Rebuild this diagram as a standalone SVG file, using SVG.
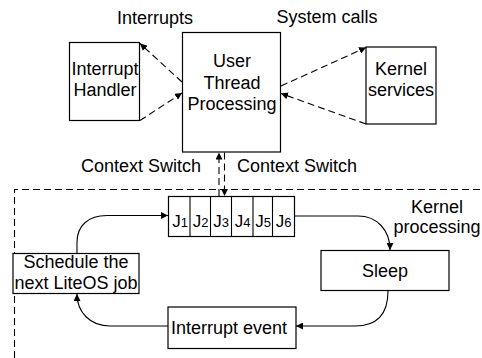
<svg xmlns="http://www.w3.org/2000/svg" width="482" height="358" viewBox="0 0 482 358">
<style>
text{font-family:"Liberation Sans",Arial,sans-serif;font-size:18px;fill:#000;text-anchor:middle}
.j{font-size:17px}
.box{fill:#fff;stroke:#000;stroke-width:1.2}
.ln{fill:none;stroke:#000;stroke-width:1.1}
.dash{fill:none;stroke:#000;stroke-width:1.1;stroke-dasharray:7,4}
.sub{font-size:13px}
</style>
<defs>
<marker id="ah" viewBox="0 0 10 10" refX="10" refY="5" markerWidth="7" markerHeight="7" orient="auto" markerUnits="userSpaceOnUse">
<path d="M0,0 L10,5 L0,10 z" fill="#000"/>
</marker>
</defs>
<rect width="482" height="358" fill="#fff"/>
<g id="boundary">
<path class="dash" d="M14.5,358 V189.5 H482"/>
</g>
<g id="labels">
<text x="155" y="24">Interrupts</text>
<text x="327" y="23">System calls</text>
<text x="141" y="172">Context Switch</text>
<text x="297" y="172">Context Switch</text>
<text x="437" y="213">Kernel</text>
<text x="437" y="233">processing</text>
</g>
<g id="interrupt-handler">
<rect class="box" x="69.5" y="42.5" width="70" height="78"/>
<text x="105" y="75">Interrupt</text>
<text x="105" y="96">Handler</text>
</g>
<g id="user-thread">
<rect class="box" x="182.5" y="32.5" width="98" height="119.5"/>
<text x="232" y="67">User</text>
<text x="232" y="89">Thread</text>
<text x="232" y="110">Processing</text>
</g>
<g id="kernel-services">
<rect class="box" x="366" y="47" width="70" height="77"/>
<text x="401" y="75">Kernel</text>
<text x="401" y="96">services</text>
</g>
<g id="job-queue">
<rect class="box" x="168.5" y="196.5" width="126" height="40"/>
<path class="ln" d="M190,196.5 V236.5 M210.5,196.5 V236.5 M231.5,196.5 V236.5 M253,196.5 V236.5 M272.5,196.5 V236.5"/>
<text class="j" x="180" y="227">J<tspan class="sub">1</tspan></text>
<text class="j" x="200.5" y="227">J<tspan class="sub">2</tspan></text>
<text class="j" x="221" y="227">J<tspan class="sub">3</tspan></text>
<text class="j" x="242.5" y="227">J<tspan class="sub">4</tspan></text>
<text class="j" x="263" y="227">J<tspan class="sub">5</tspan></text>
<text class="j" x="283.5" y="227">J<tspan class="sub">6</tspan></text>
</g>
<g id="schedule">
<rect class="box" x="13" y="253.5" width="126" height="40"/>
<text x="76" y="268">Schedule the</text>
<text x="76" y="289">next LiteOS job</text>
</g>
<g id="sleep">
<rect class="box" x="321" y="250.5" width="128" height="40"/>
<text x="385" y="277">Sleep</text>
</g>
<g id="interrupt-event">
<rect class="box" x="168" y="307" width="128" height="41.5"/>
<text x="229" y="334">Interrupt event</text>
</g>
<g id="connectors">
<path class="dash" d="M182,82 L140,43.5" marker-end="url(#ah)"/>
<path class="dash" d="M140,120.5 L182,93" marker-end="url(#ah)"/>
<path class="dash" d="M281,86 L366,47.5" marker-end="url(#ah)"/>
<path class="dash" d="M366,124 L281,93.5" marker-end="url(#ah)"/>
<path class="dash" d="M219,196 V152.5" marker-end="url(#ah)"/>
<path class="dash" d="M224.5,152.5 V196" marker-end="url(#ah)"/>
<path class="ln" d="M294.5,216 L358,216 C377,216 390,230 390,250" marker-end="url(#ah)"/>
<path class="ln" d="M388,291 C388,314 378,326 355,326 L296,326" marker-end="url(#ah)"/>
<path class="ln" d="M168,326 L110,326 C90,326 77,312 77,294" marker-end="url(#ah)"/>
<path class="ln" d="M77,253 L77,242 C77,226 88,215.5 107,215.5 L168,215.5" marker-end="url(#ah)"/>
</g>
</svg>
